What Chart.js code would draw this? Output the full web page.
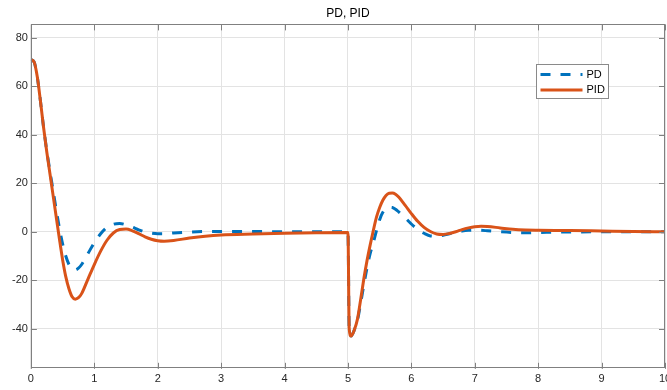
<!DOCTYPE html>
<html lang="en">
<head>
<meta charset="UTF-8">
<title>PD, PID</title>
<script src="https://cdn.jsdelivr.net/npm/chart.js"></script>
<style>
   html, body { margin: 0; padding: 0; background: #fff; overflow: hidden; }
   .wrap { position: relative; width: 667px; height: 390px; overflow: hidden; }
   canvas { display: block; }
</style>
</head>
<body>
<div class="wrap"><canvas id="grafico" width="671" height="390"></canvas></div>
<script>
   // tempo (s) e respostas
   const tempo = [0, 0.05, 0.1, 0.15, 0.2, 0.25, 0.3, 0.35, 0.4, 0.45,
      0.5, 0.55, 0.6, 0.65, 0.7, 0.75, 0.8, 0.9, 1.0, 1.1,
      1.2, 1.3, 1.4, 1.5, 1.6, 1.7, 1.8, 1.9, 2.0, 2.1,
      2.25, 2.5, 2.75, 3.0, 3.5, 4.0, 4.5, 4.99, 5.0, 5.02,
      5.05, 5.1, 5.15, 5.2, 5.25, 5.3, 5.35, 5.4, 5.45, 5.5,
      5.55, 5.6, 5.65, 5.7, 5.75, 5.8, 5.9, 6.0, 6.1, 6.2,
      6.3, 6.4, 6.5, 6.6, 6.7, 6.8, 6.9, 7.0, 7.1, 7.2,
      7.4, 7.6, 7.8, 8.0, 8.5, 9.0, 9.5, 10];

   const pdValores = [71, 70, 64, 54, 43, 33.5, 25, 17, 9, 1.5,
      -5, -10, -13.5, -15.3, -15.7, -15, -13.5, -9, -4.5, -0.8,
      1.8, 3.1, 3.4, 2.9, 1.9, 0.8, -0.1, -0.6, -0.8, -0.8,
      -0.5, -0.1, 0.1, 0.1, 0.1, 0, 0, 0, 0, -40,
      -43, -40.5, -36.5, -29.5, -22, -15, -9, -4.5, 0.5, 5,
      8, 9.6, 10.1, 10, 9.3, 8.2, 5.8, 3.2, 1, -0.6,
      -1.7, -1.8, -1.4, -0.8, -0.2, 0.3, 0.6, 0.7, 0.6, 0.4,
      0, -0.3, -0.4, -0.3, -0.1, 0, 0, 0];

   const pidValores = [71, 70, 64, 54, 43, 33, 24, 15, 6, -3,
      -11.5, -18.5, -23.5, -26.8, -27.8, -27.2, -25.5, -19.5, -13.5, -8,
      -3.5, -0.5, 0.9, 1.1, 0.4, -0.8, -2.1, -3.1, -3.7, -3.9,
      -3.6, -2.6, -1.8, -1.3, -0.9, -0.6, -0.4, -0.3, -0.3, -40,
      -43, -40.5, -36, -28, -19.5, -12, -5.5, 0.5, 6, 10,
      13, 15, 15.9, 16, 15.5, 14.3, 11, 7.5, 4.3, 1.8,
      0.1, -0.9, -1.1, -0.7, 0, 0.9, 1.6, 2.1, 2.3, 2.2,
      1.6, 1.0, 0.7, 0.6, 0.5, 0.3, 0.1, 0];

   const xTicks = [0, 1, 2, 3, 4, 5, 6, 7, 8, 9, 10];
   const yTicks = [-40, -20, 0, 20, 40, 60, 80];

   const fonte = "'Liberation Sans', Arial, Helvetica, sans-serif";
   const corEixo = '#808080';

   // caixa em volta dos eixos com os traços para dentro (estilo matlab)
   const caixaEixos = {
      id: 'caixaEixos',
      afterDatasetsDraw(chart) {
         const ctx = chart.ctx;
         const a = chart.chartArea;
         const x = chart.scales.x;
         const y = chart.scales.y;
         ctx.save();
         ctx.strokeStyle = corEixo;
         ctx.lineWidth = 1;
         ctx.strokeRect(Math.round(a.left) + 0.5, Math.round(a.top) + 0.5,
            Math.round(a.width) - 1, Math.round(a.height) - 1);
         ctx.beginPath();
         x.ticks.forEach(function (t) {
            const px = Math.round(x.getPixelForValue(t.value)) + 0.5;
            ctx.moveTo(px, a.bottom); ctx.lineTo(px, a.bottom - 6);
            ctx.moveTo(px, a.top); ctx.lineTo(px, a.top + 6);
         });
         y.ticks.forEach(function (t) {
            const py = Math.round(y.getPixelForValue(t.value)) + 0.5;
            ctx.moveTo(a.left, py); ctx.lineTo(a.left + 6, py);
            ctx.moveTo(a.right, py); ctx.lineTo(a.right - 6, py);
         });
         ctx.stroke();
         ctx.restore();
      }
   };

   // legenda dentro do gráfico, canto superior direito
   const legendaDentro = {
      id: 'legendaDentro',
      afterDraw(chart) {
         const ctx = chart.ctx;
         const a = chart.chartArea;
         const bx = Math.round(a.right - 129) + 0.5;
         const by = Math.round(a.top + 40) + 0.5;
         ctx.save();
         ctx.fillStyle = '#fff';
         ctx.fillRect(bx, by, 72, 34);
         ctx.strokeStyle = '#8a8a8a';
         ctx.lineWidth = 1;
         ctx.strokeRect(bx, by, 72, 34);
         const linhas = [chart.data.datasets[0], chart.data.datasets[1]];
         linhas.forEach(function (ds, i) {
            const ly = by + 10 + i * 15.5;
            ctx.beginPath();
            ctx.strokeStyle = ds.borderColor;
            ctx.lineWidth = 3;
            ctx.setLineDash(ds.borderDash || []);
            ctx.moveTo(bx + 4, ly);
            ctx.lineTo(bx + 46, ly);
            ctx.stroke();
            ctx.setLineDash([]);
            ctx.fillStyle = '#000';
            ctx.font = '11px ' + fonte;
            ctx.textBaseline = 'middle';
            ctx.fillText(ds.label, bx + 50, ly);
         });
         ctx.restore();
      }
   };

   const config = {
      type: 'line',
      data: {
         datasets: [
            {
               label: 'PD',
               data: tempo.map(function (t, i) { return { x: t, y: pdValores[i] }; }),
               borderColor: '#0072BD',
               borderWidth: 3,
               borderDash: [10, 10],
               pointRadius: 0,
               cubicInterpolationMode: 'monotone',
               order: 1
            },
            {
               label: 'PID',
               data: tempo.map(function (t, i) { return { x: t, y: pidValores[i] }; }),
               borderColor: '#D95319',
               borderWidth: 3,
               pointRadius: 0,
               cubicInterpolationMode: 'monotone',
               order: 0
            }
         ]
      },
      options: {
         responsive: false,
         animation: false,
         layout: { padding: { left: 9, right: 0, top: 0, bottom: 0 } },
         plugins: {
            legend: { display: false },
            tooltip: { enabled: false },
            title: {
               display: true,
               text: 'PD, PID',
               fullSize: false,
               color: '#000',
               font: { family: fonte, size: 12, weight: 'normal' },
               padding: { top: 6, bottom: 4 }
            }
         },
         scales: {
            x: {
               type: 'linear',
               min: 0,
               max: 10,
               afterBuildTicks: function (s) { s.ticks = xTicks.map(function (v) { return { value: v }; }); },
               // o ultimo rotulo "10" fica cortado na borda, como no original
               afterFit: function (s) { s.paddingRight = 6; },
               grid: { color: '#e3e3e3', drawTicks: false },
               border: { display: false },
               ticks: { color: '#262626', font: { family: fonte, size: 11 }, padding: 4, maxRotation: 0 }
            },
            y: {
               min: -56.5,
               max: 85.5,
               afterBuildTicks: function (s) { s.ticks = yTicks.map(function (v) { return { value: v }; }); },
               grid: { color: '#e3e3e3', drawTicks: false },
               border: { display: false },
               ticks: { color: '#262626', font: { family: fonte, size: 11 }, padding: 3 }
            }
         }
      },
      plugins: [caixaEixos, legendaDentro]
   };

   const grafico = new Chart(document.getElementById('grafico'), config);
</script>
</body>
</html>
